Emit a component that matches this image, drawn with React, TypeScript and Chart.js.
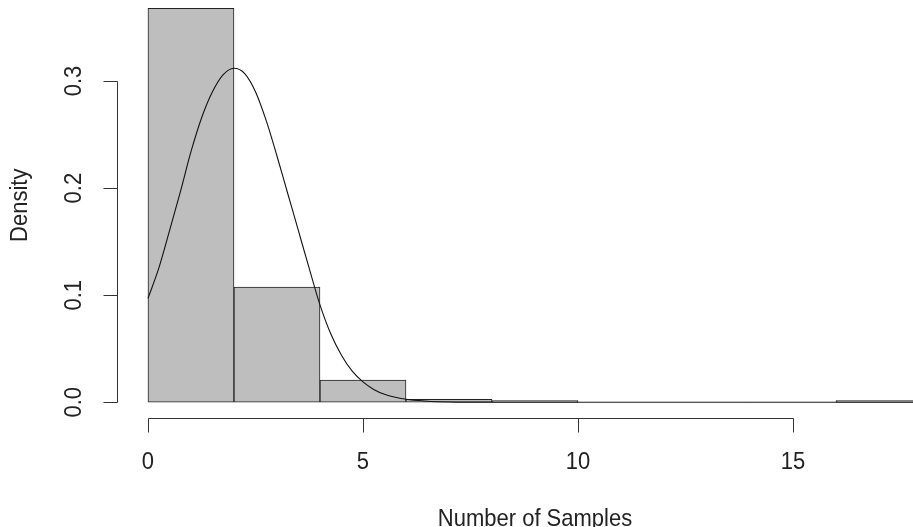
import React, { useEffect, useRef } from "react";
import { Chart, registerables } from "chart.js";

Chart.register(...registerables);

// Histogram bins (width 2) and densities
const binEdges = [0, 2, 4, 6, 8, 10, 12, 14, 16, 18];
const binCenters = [1, 3, 5, 7, 9, 11, 13, 15, 17];
const densities = [0.368, 0.1075, 0.0206, 0.0028, 0.0015, 0, 0, 0, 0.0015];

// Density curve
const curveX = [0, 0.25, 0.5, 0.75, 1, 1.25, 1.5, 1.75, 2, 2.25, 2.5, 2.75, 3, 3.25, 3.5, 3.75, 4, 4.25, 4.5, 4.75, 5, 5.25, 5.5, 6, 6.5, 7, 8, 10, 14, 18];
const curveY = [0.097, 0.125, 0.16, 0.196, 0.234, 0.266, 0.29, 0.306, 0.312, 0.307, 0.29, 0.263, 0.23, 0.195, 0.16, 0.125, 0.091, 0.064, 0.044, 0.029, 0.019, 0.012, 0.0075, 0.0028, 0.001, 0.0003, 0, 0, 0, 0];

const xTicks = [0, 5, 10, 15];
const yTicks = [0, 0.1, 0.2, 0.3];
const yTickLabels = ["0.0", "0.1", "0.2", "0.3"];
const xTitle = "Number of Samples";
const yTitle = "Density";

const FONT = '22px "Liberation Sans", Arial, sans-serif';
const STRETCH = 1.1;

function drawText(ctx: any, text: string, x: number, y: number, rotate: boolean) {
  ctx.save();
  ctx.translate(x, y);
  if (rotate) ctx.rotate(-Math.PI / 2);
  ctx.scale(1, STRETCH);
  ctx.textAlign = "center";
  ctx.textBaseline = "alphabetic";
  ctx.fillText(text, 0, 0);
  ctx.restore();
}

const rAxesPlugin = {
  id: "rAxes",
  afterDatasetsDraw(chart: any) {
    const ctx = chart.ctx;
    ctx.save();
    // zero-height bars drawn as lines (like R)
    const barMeta = chart.getDatasetMeta(0);
    ctx.strokeStyle = "#555";
    ctx.lineWidth = 1;
    barMeta.data.forEach((el: any) => {
      const p = el.getProps(["x", "y", "base", "width"], true);
      if (Math.abs(p.base - p.y) < 1) {
        ctx.beginPath();
        ctx.moveTo(p.x - p.width / 2, Math.round(p.base) + 0.5);
        ctx.lineTo(p.x + p.width / 2, Math.round(p.base) + 0.5);
        ctx.stroke();
      }
    });
    ctx.restore();
  },
  afterDraw(chart: any) {
    const ctx = chart.ctx;
    const xs = chart.scales.x;
    const ys = chart.scales.y;
    const area = chart.chartArea;
    ctx.save();
    ctx.strokeStyle = "#333";
    ctx.fillStyle = "#222";
    ctx.lineWidth = 1;
    ctx.font = FONT;
    const tickLen = 14;

    // Y axis
    const ax = Math.round(area.left) + 0.5;
    const y0 = Math.round(ys.getPixelForValue(yTicks[0])) + 0.5;
    const y1 = Math.round(ys.getPixelForValue(yTicks[yTicks.length - 1])) + 0.5;
    ctx.beginPath();
    ctx.moveTo(ax, y0);
    ctx.lineTo(ax, y1);
    yTicks.forEach((t) => {
      const py = Math.round(ys.getPixelForValue(t)) + 0.5;
      ctx.moveTo(ax, py);
      ctx.lineTo(ax - tickLen, py);
    });
    ctx.stroke();
    yTicks.forEach((t, i) => {
      drawText(ctx, yTickLabels[i], ax - 37, ys.getPixelForValue(t), true);
    });

    // X axis
    const ay = Math.round(area.bottom) + 0.5;
    const x0 = Math.round(xs.getPixelForValue(xTicks[0])) + 0.5;
    const x1 = Math.round(xs.getPixelForValue(xTicks[xTicks.length - 1])) + 0.5;
    ctx.beginPath();
    ctx.moveTo(x0, ay);
    ctx.lineTo(x1, ay);
    xTicks.forEach((t) => {
      const px = Math.round(xs.getPixelForValue(t)) + 0.5;
      ctx.moveTo(px, ay);
      ctx.lineTo(px, ay + tickLen);
    });
    ctx.stroke();
    xTicks.forEach((t) => {
      drawText(ctx, String(t), xs.getPixelForValue(t), ay + 50, false);
    });

    // Titles (centred on R's full plot region, -0.72..18.72 / -0.0147..0.383)
    drawText(ctx, xTitle, xs.getPixelForValue(9), ay + 107, false);
    drawText(ctx, yTitle, 27, ys.getPixelForValue(0.184), true);
    ctx.restore();
  },
};

export default function App() {
  const ref = useRef<HTMLCanvasElement | null>(null);
  useEffect(() => {
    document.body.style.margin = "0";
    const canvas = ref.current;
    if (!canvas) return;
    const chart = new Chart(canvas, {
      type: "bar",
      data: {
        datasets: [
          {
            type: "bar",
            data: binCenters.map((x, i) => ({ x, y: densities[i] })),
            backgroundColor: "#BEBEBE",
            borderColor: "#222",
            borderWidth: 1,
            borderSkipped: false,
            barPercentage: 1,
            categoryPercentage: 1,
            order: 1,
          } as any,
          {
            type: "line",
            data: curveX.map((x, i) => ({ x, y: curveY[i] })),
            borderColor: "#111",
            borderWidth: 1.1,
            pointRadius: 0,
            cubicInterpolationMode: "monotone",
            fill: false,
            order: 0,
          } as any,
        ],
      },
      options: {
        responsive: false,
        animation: false,
        layout: { padding: { left: 117, right: 0, top: 0, bottom: 109 } },
        plugins: { legend: { display: false }, tooltip: { enabled: false } },
        scales: {
          x: {
            type: "linear",
            min: -0.72,
            max: 17.79,
            offset: false,
            display: false,
            grid: { offset: false },
            afterBuildTicks: (scale: any) => {
              scale.ticks = binEdges.map((v) => ({ value: v }));
            },
          },
          y: { type: "linear", min: -0.0147, max: 0.3757, display: false },
        },
      },
      plugins: [rAxesPlugin],
    });
    return () => chart.destroy();
  }, []);
  return (
    <div style={{ width: 913, height: 527, background: "#fff" }}>
      <canvas ref={ref} width={913} height={527} style={{ display: "block" }} />
    </div>
  );
}
